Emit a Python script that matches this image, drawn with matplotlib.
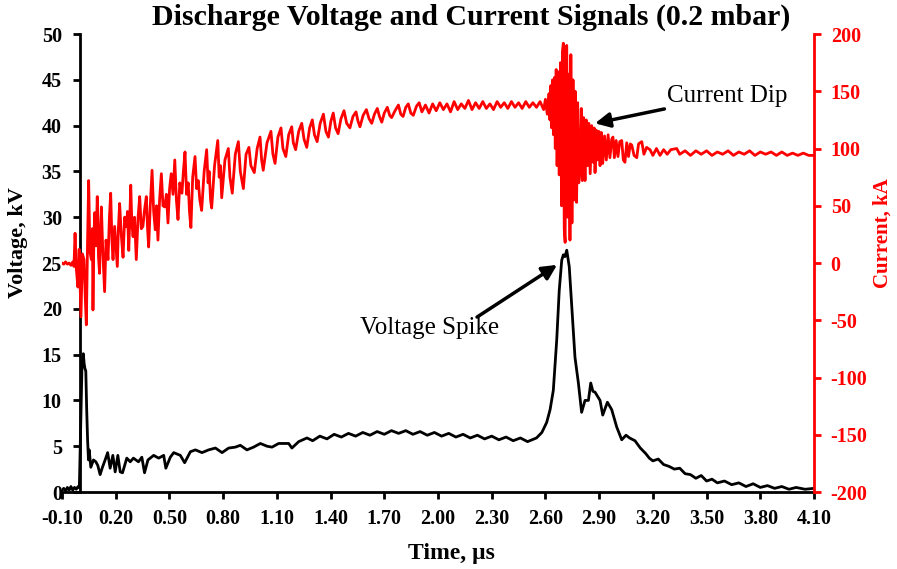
import matplotlib
matplotlib.use("Agg")
import matplotlib.pyplot as plt

# current signal (kA): time in us
cur_t = [-0.10, -0.09, -0.08, -0.07, -0.06, -0.05, -0.04, -0.033,
         -0.027, -0.020, -0.011, -0.004, 0.006, 0.014, 0.023, 0.030, 0.036, 0.043, 0.049, 0.056,
         0.064, 0.070, 0.073, 0.078, 0.083, 0.090, 0.097, 0.104, 0.110, 0.115, 0.120, 0.128,
         0.138, 0.146, 0.157, 0.165, 0.172, 0.179, 0.185, 0.194, 0.201, 0.209, 0.215, 0.222,
         0.231, 0.241, 0.250, 0.259, 0.266, 0.273, 0.279, 0.284, 0.290, 0.297, 0.305, 0.315,
         0.325, 0.334, 0.343, 0.352, 0.360, 0.371, 0.378, 0.384, 0.393, 0.403, 0.412, 0.421,
         0.428, 0.436, 0.445, 0.455, 0.464, 0.474, 0.483, 0.492, 0.501, 0.510, 0.520, 0.530,
         0.539, 0.548, 0.558, 0.570, 0.578, 0.587, 0.596, 0.605, 0.612, 0.620, 0.630, 0.643,
         0.652, 0.661, 0.670, 0.680, 0.694, 0.708, 0.716, 0.722, 0.730, 0.736, 0.752, 0.770,
         0.778, 0.785, 0.792, 0.810, 0.829, 0.838, 0.851, 0.868, 0.885, 0.896, 0.913, 0.928,
         0.944, 0.955, 0.974, 0.990, 1.006, 1.015, 1.024, 1.045, 1.067, 1.078, 1.090, 1.106,
         1.123, 1.134, 1.150, 1.166, 1.183, 1.192, 1.205, 1.222, 1.239, 1.252, 1.267, 1.283,
         1.298, 1.310, 1.325, 1.342, 1.360, 1.374, 1.388, 1.402, 1.415, 1.428, 1.442, 1.458,
         1.475, 1.490, 1.508, 1.525, 1.542, 1.553, 1.564, 1.582, 1.600, 1.615, 1.630, 1.645,
         1.661, 1.673, 1.686, 1.700, 1.717, 1.730, 1.741, 1.760, 1.779, 1.792, 1.805, 1.820,
         1.834, 1.848, 1.862, 1.880, 1.895,
         1.91, 1.93, 1.95, 1.97, 1.99, 2.01, 2.03, 2.05, 2.07, 2.09, 2.11, 2.13, 2.15, 2.17,
         2.19, 2.21, 2.23, 2.25, 2.27, 2.29, 2.31, 2.33, 2.35, 2.37, 2.39, 2.41, 2.43, 2.45,
         2.47, 2.49, 2.51, 2.53, 2.55, 2.57, 2.59, 2.60,
         2.610, 2.620, 2.625, 2.630, 2.635, 2.640, 2.645, 2.650, 2.655, 2.660, 2.665, 2.672,
         2.677, 2.684, 2.690, 2.695, 2.700, 2.705, 2.710, 2.715, 2.719, 2.725, 2.730, 2.737,
         2.742, 2.748, 2.754, 2.760, 2.766, 2.774, 2.780, 2.786, 2.793, 2.800, 2.806, 2.813,
         2.821, 2.828, 2.835, 2.842, 2.850, 2.858, 2.866, 2.872, 2.877, 2.884, 2.890, 2.898,
         2.905, 2.912, 2.920, 2.930, 2.940, 2.950, 2.960, 2.970, 2.977, 2.985, 2.995, 3.005,
         3.015, 3.026, 3.035, 3.044, 3.054, 3.064, 3.074, 3.082, 3.095, 3.110, 3.120, 3.128,
         3.138, 3.150, 3.165, 3.184, 3.20, 3.22, 3.24, 3.26, 3.28, 3.30, 3.333, 3.35, 3.38,
         3.41, 3.44, 3.47, 3.50, 3.53, 3.56, 3.59, 3.62, 3.65, 3.68, 3.71, 3.74, 3.77, 3.80,
         3.83, 3.86, 3.89, 3.92, 3.95, 3.98, 4.01, 4.04, 4.07, 4.10]
cur_i = [0, -1, 1, -1, 0, -2, 1, -3,
         26, -5, -21, 12, -47, 8, 3, -30, -54, 20, 72, 10,
         3, 30, -41, 20, 44, 15, 58, 5, -9, 30, 49, 10,
         -25, 20, 3, 40, 61, 20, 3, 32, 15, -3, 30, 52,
         25, 5, 40, 32, 45, 11, 40, 68, 35, 23, 40, 3,
         40, 58, 30, 32, 45, 58, 30, 14, 50, 81, 45, 29,
         50, 20, 55, 78, 50, 49, 60, 35, 65, 78, 60, 90,
         55, 38, 70, 61, 80, 97, 60, 70, 45, 31, 75, 93,
         65, 72, 55, 46, 80, 99, 70, 80, 55, 48, 85, 107,
         75, 85, 57, 90, 100, 75, 61, 95, 106, 80, 65, 95,
         101, 85, 79, 100, 110, 90, 81, 105, 115, 95, 87, 110,
         118, 100, 93, 112, 119, 105, 99, 115, 122, 108, 101, 118,
         125, 112, 106, 122, 130, 115, 110, 124, 131, 118, 113, 126,
         133, 122, 118, 128, 132, 124, 119, 129, 134, 126, 122, 130,
         135, 128, 123, 131, 136, 129, 127, 133, 138, 130, 128, 136,
         139, 131, 129, 137, 140,
         132, 138, 131, 139, 133, 140, 134, 139, 132, 141, 134, 139, 135, 142,
         134, 140, 135, 141, 135, 139, 134, 141, 136, 140, 135, 141, 136, 140,
         135, 141, 136, 140, 136, 141, 134, 143,
         130, 148, 125, 155, 118, 160, 112, 162, 100, 169, 85, 167,
         77, 175, 50, 185, 192, 30, 18, 188, 190, 40, 165, 20,
         182, 35, 160, 55, 150, 53, 140, 70, 81, 135, 72, 127,
         72, 125, 85, 122, 78, 120, 88, 118, 79, 116, 90, 115,
         85, 114, 87, 111, 90, 112, 92, 108, 110, 92, 107, 93,
         106, 107, 90, 88, 105, 93, 104, 103, 94, 92, 104, 105,
         106, 95, 101, 99, 94, 100, 94, 99, 95, 99, 100, 95, 98,
         94, 98, 95, 98, 94, 97, 95, 98, 94, 97, 95, 98, 94, 97,
         95, 97, 94, 97, 94, 96, 94, 96, 94, 94]

# voltage signal (kV)
volt_t = [-0.10, -0.09, -0.08, -0.07, -0.06, -0.05, -0.04, -0.03, -0.02, -0.01, -0.003,
          0.005, 0.012, 0.019, 0.024, 0.028, 0.033, 0.038, 0.043, 0.048, 0.052, 0.061, 0.076,
          0.089, 0.100, 0.113, 0.126, 0.141, 0.155, 0.169, 0.184, 0.197, 0.212, 0.225, 0.238,
          0.262, 0.281, 0.299, 0.327, 0.346, 0.361, 0.380, 0.412, 0.440, 0.468, 0.480, 0.505,
          0.524, 0.561, 0.585, 0.617, 0.645, 0.682, 0.719, 0.757, 0.794, 0.831, 0.868, 0.896,
          0.933, 0.970, 1.008, 1.045, 1.073, 1.110, 1.166, 1.184, 1.222, 1.268, 1.30, 1.34,
          1.38, 1.42, 1.46, 1.50, 1.54, 1.58, 1.62, 1.66, 1.70, 1.74, 1.78, 1.82, 1.86, 1.90,
          1.94, 1.98, 2.02, 2.06, 2.10, 2.14, 2.18, 2.22, 2.26, 2.30, 2.34, 2.38, 2.42, 2.46,
          2.50, 2.55, 2.58, 2.607, 2.626, 2.644, 2.663, 2.677, 2.691, 2.700, 2.709, 2.719,
          2.733, 2.747, 2.765, 2.784, 2.802, 2.821, 2.840, 2.853, 2.865, 2.877, 2.905, 2.920,
          2.946, 2.970, 2.998, 3.026, 3.05, 3.07, 3.10, 3.13, 3.16, 3.18, 3.20, 3.23, 3.26,
          3.29, 3.32, 3.35, 3.38, 3.41, 3.44, 3.47, 3.50, 3.53, 3.56, 3.60, 3.64, 3.68, 3.72,
          3.76, 3.80, 3.84, 3.88, 3.92, 3.96, 4.00, 4.05, 4.10]
volt_v = [0.2, 0.4, 0.1, 0.5, 0.2, 0.6, 0.2, 0.5, 0.3, 0.6, 0.5,
          8.0, 14.0, 15.1, 14.0, 13.5, 13.2, 9.0, 5.7, 3.5, 4.6, 2.7, 3.5,
          3.3, 2.9, 1.9, 2.7, 3.5, 4.3, 2.6, 4.0, 2.2, 4.0, 2.2, 2.1,
          3.7, 3.3, 3.7, 3.3, 3.8, 2.1, 3.5, 4.0, 3.7, 4.0, 2.6, 3.8,
          4.3, 4.0, 3.2, 4.4, 4.6, 4.3, 4.6, 4.8, 4.3, 4.8, 4.9, 5.1,
          4.6, 4.9, 5.3, 5.0, 4.9, 5.3, 5.3, 4.8, 5.5, 5.9, 5.6, 6.1,
          5.8, 6.3, 6.0, 6.4, 6.1, 6.5, 6.2, 6.6, 6.3, 6.7, 6.4, 6.7, 6.3, 6.6,
          6.2, 6.5, 6.1, 6.4, 6.0, 6.3, 5.9, 6.2, 5.8, 6.1, 5.7, 6.0, 5.6, 5.9,
          5.5, 5.9, 6.5, 7.6, 9.0, 11.1, 16.6, 22.0, 25.3, 25.9, 25.7, 26.4,
          24.6, 20.2, 14.7, 11.9, 8.7, 10.0, 10.0, 11.9, 11.0, 10.9, 10.0, 8.4,
          9.8, 9.0, 7.1, 5.7, 6.2, 5.9, 5.6, 4.8, 4.2, 3.7, 3.4, 3.6, 3.0,
          2.8, 2.5, 2.6, 2.0, 1.9, 1.5, 1.8, 1.2, 1.4, 1.0, 1.2, 0.8, 1.0, 0.6,
          0.9, 0.5, 0.7, 0.4, 0.6, 0.3, 0.5, 0.3, 0.4]

x_ticks = [-0.10, 0.20, 0.50, 0.80, 1.10, 1.40, 1.70, 2.00, 2.30, 2.60, 2.90, 3.20, 3.50, 3.80, 4.10]
v_ticks = [0, 5, 10, 15, 20, 25, 30, 35, 40, 45, 50]
i_ticks = [-200, -150, -100, -50, 0, 50, 100, 150, 200]

plt.rcParams['font.family'] = ['Liberation Serif', 'DejaVu Serif']
plt.rcParams['axes.unicode_minus'] = False

fig = plt.figure(figsize=(8.97, 5.69), dpi=100)
ax = fig.add_axes([0.0691, 0.1353, 0.8384, 0.8049])
ax2 = ax.twinx()

ax.plot(volt_t, volt_v, color='black', lw=2.0, zorder=3)
ax2.plot(cur_t, cur_i, color='red', lw=2.0)

ax.set_xlim(-0.10, 4.10)
ax.set_ylim(0, 50)
ax2.set_ylim(-200, 200)

ax.set_xticks(x_ticks)
ax.set_xticklabels(["%.2f" % v for v in x_ticks])
ax.set_yticks(v_ticks)
ax2.set_yticks(i_ticks)

# left spine crosses at t = 0 like the original Excel chart
ax.spines['left'].set_position(('data', 0))
ax.spines['left'].set_linewidth(2)
ax.spines['bottom'].set_linewidth(2)
ax.spines['top'].set_visible(False)
ax.spines['right'].set_visible(False)
for s in ['top', 'left', 'bottom']:
    ax2.spines[s].set_visible(False)
ax2.spines['right'].set_color('red')
ax2.spines['right'].set_linewidth(2)

ax.tick_params(axis='x', length=5, width=2, pad=7, labelsize=14.5)
ax.tick_params(axis='y', length=5, width=2, pad=8, labelsize=14.5)
for lab in ax.get_xticklabels() + ax.get_yticklabels():
    lab.set_fontweight('bold')
ax2.tick_params(axis='y', length=5, width=2, pad=7, labelsize=14.5, colors='red')
for lab in ax2.get_yticklabels():
    lab.set_fontweight('bold')

fig.text(0.525, 0.970, "Discharge Voltage and Current Signals (0.2 mbar)",
         ha='center', va='center', fontsize=21.5, fontweight='bold')
fig.text(0.503, 0.028, "Time, \u00b5s", ha='center', va='center', fontsize=17, fontweight='bold')
fig.text(0.020, 0.573, "Voltage, kV", ha='center', va='center', rotation=90,
         fontsize=16, fontweight='bold')
fig.text(0.984, 0.590, "Current, kA", ha='center', va='center', rotation=90,
         fontsize=15, fontweight='bold', color='red')

arrow = dict(arrowstyle='-|>', lw=2.5, color='black', mutation_scale=22, shrinkA=0, shrinkB=0)
ax2.annotate("Current Dip", xy=(2.877, 122), xytext=(3.28, 146),
             fontsize=18, ha='left', va='center', arrowprops=arrow)
ax.annotate("", xy=(2.665, 24.8), xytext=(2.218, 19.1), arrowprops=arrow)
ax.text(1.955, 17.9, "Voltage Spike", fontsize=18, ha='center', va='center')

fig.savefig("out.png", dpi=100)
